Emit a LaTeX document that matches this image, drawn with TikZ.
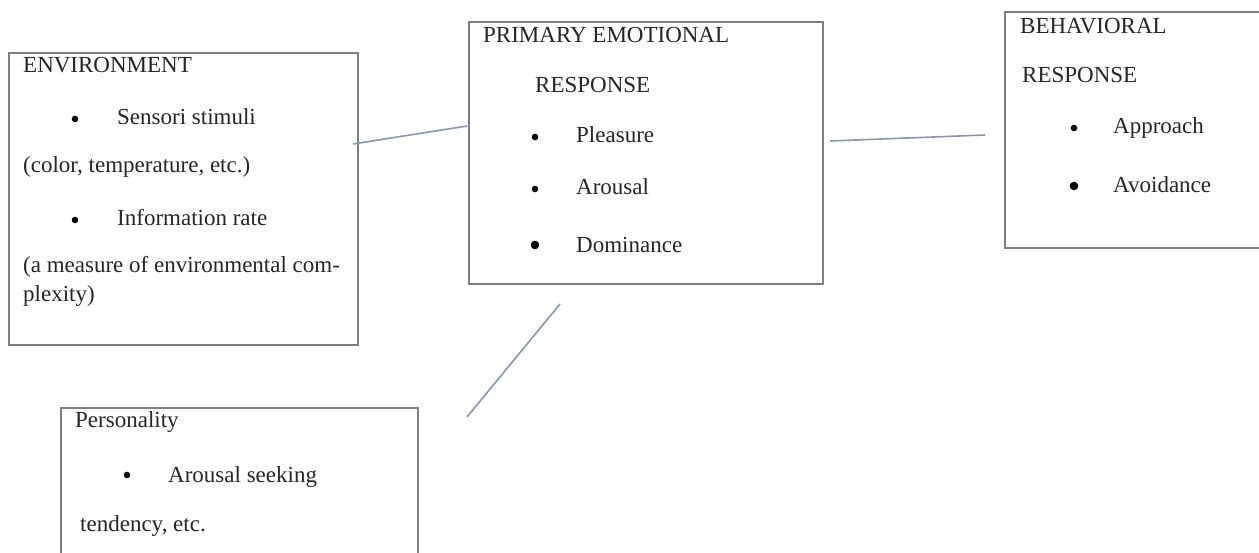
\documentclass[tikz,border=0pt]{standalone}
\usepackage{fontspec}
\setmainfont{Liberation Serif}
\definecolor{boxgray}{HTML}{7F7F7F}
\definecolor{linkcol}{HTML}{8797AE}
\begin{document}
\begin{tikzpicture}[x=1pt,y=-1pt,
  box/.style={draw=boxgray,line width=2pt,inner sep=0pt,anchor=north west,fill=none},
  txt/.style={inner sep=0pt,anchor=base west,font=\fontsize{23}{27}\selectfont,text=black!85},
  dot/.style={circle,fill=black,draw=none,inner sep=0pt,minimum size=6.6pt},
  bigdot/.style={circle,fill=black,draw=none,inner sep=0pt,minimum size=8.6pt},
  link/.style={draw=linkcol,line width=1.6pt}]
\useasboundingbox (0,0) rectangle (1259,553);
\clip (0,0) rectangle (1259,553);
\fill[white] (0,0) rectangle (1259,553);
% boxes
\node[box,minimum width=349pt,minimum height=292pt] (env) at (8,52) {};
\node[box,minimum width=354pt,minimum height=262pt] (pem) at (468,21) {};
\node[box,minimum width=270pt,minimum height=236pt] (beh) at (1004,11) {};
\node[box,minimum width=357pt,minimum height=175pt] (pers) at (60,407) {};
% environment
\node[txt] (envt) at (23,73) {ENVIRONMENT};
\node[dot] (envb1) at (75,119) {};
\node[txt] (envi1) at (117,125) {Sensori stimuli};
\node[txt] (envl2) at (23,173) {(color, temperature, etc.)};
\node[dot] (envb2) at (75,220) {};
\node[txt] (envi2) at (117,226) {Information rate};
\node[txt] (envl4) at (23,273) {(a measure of environmental com-};
\node[txt] (envl5) at (23,302) {plexity)};
% primary emotional response
\node[txt] (pemt1) at (483,43) {PRIMARY EMOTIONAL};
\node[txt] (pemt2) at (535,93) {RESPONSE};
\node[dot] (pemb1) at (535,137) {};
\node[txt] (pemi1) at (576,143) {Pleasure};
\node[dot] (pemb2) at (535,189) {};
\node[txt] (pemi2) at (576,195) {Arousal};
\node[bigdot] (pemb3) at (535,245) {};
\node[txt] (pemi3) at (576,253) {Dominance};
% behavioral response
\node[txt] (beht1) at (1020,34) {BEHAVIORAL};
\node[txt] (beht2) at (1022,83) {RESPONSE};
\node[dot] (behb1) at (1074,128) {};
\node[txt] (behi1) at (1113,134) {Approach};
\node[bigdot] (behb2) at (1074,186) {};
\node[txt] (behi2) at (1113,193) {Avoidance};
% personality
\node[txt] (perst) at (75,427) {Personality};
\node[dot] (persb1) at (127,475) {};
\node[txt] (persi1) at (168,482) {Arousal seeking};
\node[txt] (persl3) at (80,531) {tendency, etc.};
% connectors
\coordinate (l1a) at (353,144);
\coordinate (l1b) at (467,126);
\coordinate (l2a) at (830,141);
\coordinate (l2b) at (985,135);
\coordinate (l3a) at (560,304);
\coordinate (l3b) at (467,417);
\draw[link] (l1a) -- (l1b);
\draw[link] (l2a) -- (l2b);
\draw[link] (l3a) -- (l3b);
\end{tikzpicture}
\end{document}
